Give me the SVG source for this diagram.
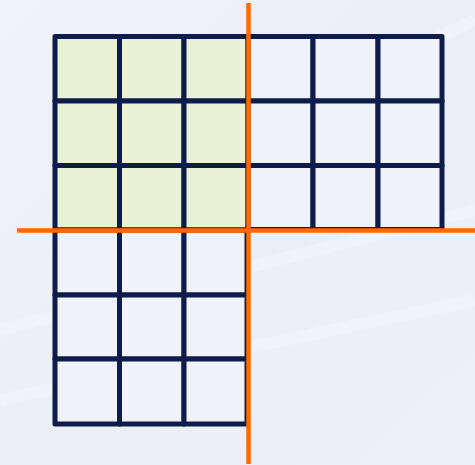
<svg xmlns="http://www.w3.org/2000/svg" width="475" height="465" viewBox="0 0 475 465">
<defs>
<linearGradient id="bg" x1="0" y1="0" x2="1" y2="1">
<stop offset="0" stop-color="#f2f3f8"/>
<stop offset="0.5" stop-color="#eceef6"/>
<stop offset="1" stop-color="#eef0f8"/>
</linearGradient>
</defs>
<style>
.c{stroke:#0d1c4b;stroke-width:5;stroke-linejoin:round}
.g{fill:#eaf2d6}
.w{fill:#f0f2f8}
.o{stroke:#ff6a00;stroke-width:4.5;fill:none}
</style>
<rect x="0" y="0" width="475" height="465" fill="url(#bg)"/>
<g opacity="0.25" stroke="#ffffff" stroke-width="12" fill="none">
<path d="M0 330 L475 210"/>
<path d="M0 400 L475 300"/>
<path d="M260 120 L475 20"/>
</g>
<g id="quadrant-top-left">
<rect id="a1" class="c g" x="55" y="36.5" width="64.5" height="64.5"/>
<rect id="a2" class="c g" x="119.5" y="36.5" width="64.5" height="64.5"/>
<rect id="a3" class="c g" x="184" y="36.5" width="64" height="64.5"/>
<rect id="a4" class="c g" x="55" y="101" width="64.5" height="64.5"/>
<rect id="a5" class="c g" x="119.5" y="101" width="64.5" height="64.5"/>
<rect id="a6" class="c g" x="184" y="101" width="64" height="64.5"/>
<rect id="a7" class="c g" x="55" y="165.5" width="64.5" height="64.5"/>
<rect id="a8" class="c g" x="119.5" y="165.5" width="64.5" height="64.5"/>
<rect id="a9" class="c g" x="184" y="165.5" width="64" height="64.5"/>
</g>
<g id="quadrant-top-right">
<rect id="b1" class="c w" x="248" y="36.5" width="65" height="64.5"/>
<rect id="b2" class="c w" x="313" y="36.5" width="65" height="64.5"/>
<rect id="b3" class="c w" x="378" y="36.5" width="64" height="64.5"/>
<rect id="b4" class="c w" x="248" y="101" width="65" height="64.5"/>
<rect id="b5" class="c w" x="313" y="101" width="65" height="64.5"/>
<rect id="b6" class="c w" x="378" y="101" width="64" height="64.5"/>
<rect id="b7" class="c w" x="248" y="165.5" width="65" height="64"/>
<rect id="b8" class="c w" x="313" y="165.5" width="65" height="64"/>
<rect id="b9" class="c w" x="378" y="165.5" width="64" height="64"/>
</g>
<g id="quadrant-bottom-left">
<rect id="c1" class="c w" x="55" y="230" width="64.5" height="65"/>
<rect id="c2" class="c w" x="119.5" y="230" width="64.5" height="65"/>
<rect id="c3" class="c w" x="184" y="230" width="63" height="65"/>
<rect id="c4" class="c w" x="55" y="295" width="64.5" height="64"/>
<rect id="c5" class="c w" x="119.5" y="295" width="64.5" height="64"/>
<rect id="c6" class="c w" x="184" y="295" width="63" height="64"/>
<rect id="c7" class="c w" x="55" y="359" width="64.5" height="65"/>
<rect id="c8" class="c w" x="119.5" y="359" width="64.5" height="65"/>
<rect id="c9" class="c w" x="184" y="359" width="63" height="65"/>
</g>
<g id="connectors">
<line class="o" x1="248.5" y1="3" x2="248.5" y2="464"/>
<line class="o" x1="17" y1="230.5" x2="475" y2="230.5"/>
</g>
</svg>
